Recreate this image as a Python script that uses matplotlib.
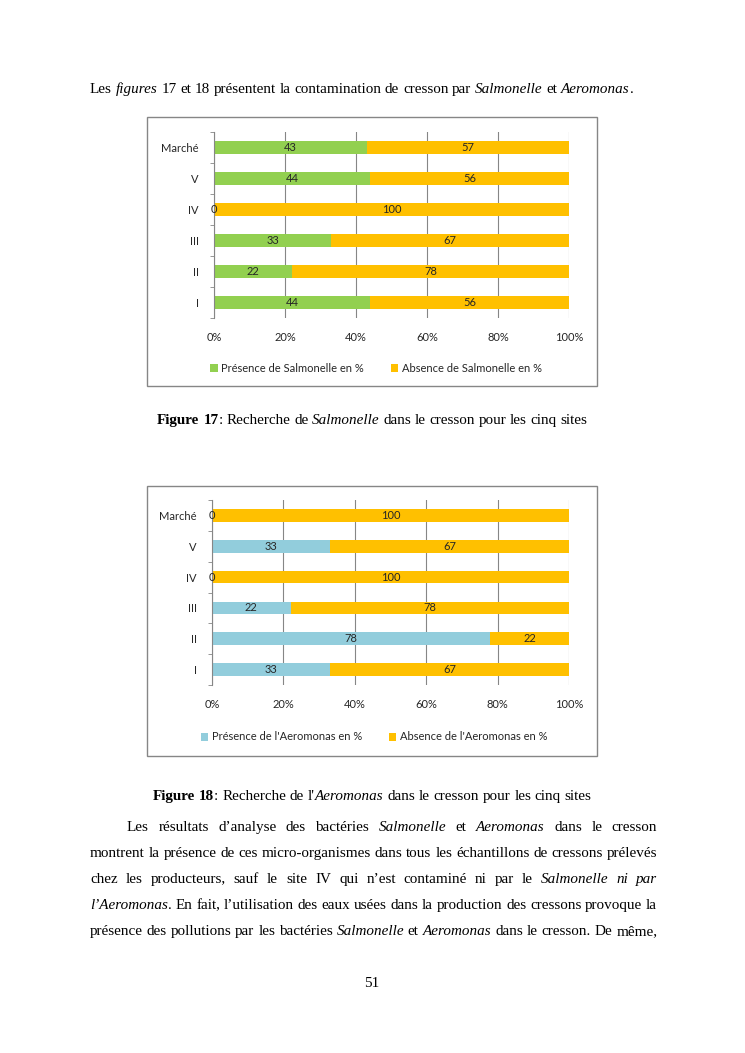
import matplotlib
matplotlib.use('Agg')
import matplotlib.pyplot as plt
from matplotlib.patches import Rectangle
from matplotlib.font_manager import FontProperties, findfont, get_font
import numpy as np

# Data
sites = ['I', 'II', 'III', 'IV', 'V', 'Marché']
salm_presence = [44, 22, 33, 0, 44, 43]
salm_absence = [56, 78, 67, 100, 56, 57]
aero_presence = [33, 78, 22, 0, 33, 0]
aero_absence = [67, 22, 78, 100, 67, 100]
xticks = [0, 20, 40, 60, 80, 100]

W, H = 745, 1053
fig = plt.figure(figsize=(W / 100, H / 100), dpi=100)

def fx(px):
    return px / W

def fy(py):
    return 1 - py / H

CHART_FONT = 'Lato'
GRAY = '#868686'


def chart(box, axbox, pres, absn, c_pres, lab_pres, lab_abs, leg_xy):
    # outer frame of the excel chart
    x0, y0, x1, y1 = box
    fig.add_artist(Rectangle((fx(x0), fy(y1)), (x1 - x0) / W, (y1 - y0) / H,
                             transform=fig.transFigure, fill=False,
                             edgecolor=GRAY, lw=1))
    l, t, rr, b = axbox
    ax = fig.add_axes([fx(l), fy(b), (rr - l) / W, (b - t) / H])
    y = np.arange(len(sites))
    b1 = ax.barh(y, pres, height=0.41, color=c_pres, label=lab_pres)
    b2 = ax.barh(y, absn, left=pres, height=0.41, color='#FFC000', label=lab_abs)
    for bars in (b1, b2):
        ax.bar_label(bars, label_type='center', fontsize=8, color='#262626',
                     family=CHART_FONT)
    ax.set_xlim(0, 100)
    ax.set_ylim(-0.5, len(sites) - 0.5)
    ax.set_xticks(xticks, [f'{v}%' for v in xticks], family=CHART_FONT, fontsize=8)
    ax.set_yticks(y, sites, family=CHART_FONT, fontsize=8)
    ax.set_yticks(np.arange(-0.5, len(sites), 1), minor=True)
    ax.tick_params(axis='y', which='major', length=0, pad=11, colors='#262626')
    ax.tick_params(axis='y', which='minor', length=3, color=GRAY)
    ax.tick_params(axis='x', length=0, pad=10, colors='#262626')
    ax.grid(axis='x', color=GRAY, lw=0.8)
    ax.set_axisbelow(True)
    for s in ('top', 'right', 'bottom'):
        ax.spines[s].set_visible(False)
    ax.spines['left'].set_color(GRAY)
    ax.legend(loc='center', bbox_to_anchor=(fx(leg_xy[0]), fy(leg_xy[1])),
              bbox_transform=fig.transFigure, ncol=2, frameon=False,
              prop={'family': CHART_FONT, 'size': 8},
              handlelength=0.7, handleheight=0.7, handletextpad=0.3,
              columnspacing=2.4, labelcolor='#262626')
    return ax


chart((147, 117, 597, 386), (214, 132, 569, 318), salm_presence, salm_absence,
      '#92D050', 'Présence de Salmonelle en %', 'Absence de Salmonelle en %', (376, 368))
chart((147, 486, 597, 756), (212, 500, 569, 685), aero_presence, aero_absence,
      '#92CDDC', "Présence de l'Aeromonas en %", "Absence de l'Aeromonas en %", (374, 737))

# ---- page text ----
SERIF = 'Liberation Serif'
FS = 10.0


def prop(st):
    return FontProperties(family=SERIF, size=FS,
                          style='italic' if 'i' in st else 'normal',
                          weight='bold' if 'b' in st else 'normal')


def kw(st):
    return dict(fontproperties=prop(st), va='baseline', ha='left', color='black')


def adv(s, st):
    # typographic advance width in pixels (dpi 100)
    f = get_font(findfont(prop(st)))
    f.set_size(FS, 100)
    return sum(f.load_char(ord(c)).linearHoriAdvance for c in s) / 65536


def parse(line):
    chars = []
    ital = bold = False
    for ch in line:
        if ch == '_':
            ital = not ital
        elif ch == '*':
            bold = not bold
        else:
            chars.append((ch, ('i' if ital else '') + ('b' if bold else '')))
    words, cur = [], []
    for ch, st in chars + [(' ', '')]:
        if ch == ' ':
            if cur:
                runs = []
                for c, s in cur:
                    if runs and runs[-1][1] == s:
                        runs[-1][0] += c
                    else:
                        runs.append([c, s])
                words.append(runs)
            cur = []
        else:
            cur.append((ch, st))
    return words


def natural(line):
    words = parse(line)
    return sum(adv(s, st) for wd in words for s, st in wd) + adv(' ', '') * (len(words) - 1)


line1 = 'Les _figures_ 17 et 18 présentent la contamination de cresson par _Salmonelle_ et _Aeromonas_.'
# scale the font so the first line spans the same width as on the page
FS = 10.0 * 543 / natural(line1)
SPACE = adv(' ', '')


def draw_line(line, y, x0=None, x1=None, center=None):
    words = parse(line)
    ws = [sum(adv(s, st) for s, st in wd) for wd in words]
    if center is not None:
        gap = SPACE
        x = center - (sum(ws) + gap * (len(words) - 1)) / 2
    elif x1 is not None:
        gap = (x1 - x0 - sum(ws)) / (len(words) - 1)
        x = x0
    else:
        gap = SPACE
        x = x0
    for wd, w in zip(words, ws):
        xx = x
        for s, st in wd:
            fig.text(fx(xx), fy(y), s, **kw(st))
            xx += adv(s, st)
        x += w + gap


draw_line(line1, 93, x0=90)
draw_line('*Figure 17*: Recherche de _Salmonelle_ dans le cresson pour les cinq sites', 424, center=372)
draw_line("*Figure 18*: Recherche de l'_Aeromonas_ dans le cresson pour les cinq sites", 800, center=372)

para = [
    'Les résultats d’analyse des bactéries _Salmonelle_ et _Aeromonas_ dans le cresson',
    'montrent la présence de ces micro-organismes dans tous les échantillons de cressons prélevés',
    'chez les producteurs, sauf le site IV qui n’est contaminé ni par le _Salmonelle ni par_',
    '_l’Aeromonas_. En fait, l’utilisation des eaux usées dans la production des cressons provoque la',
    'présence des pollutions par les bactéries _Salmonelle_ et _Aeromonas_ dans le cresson. De même,',
]
para_y = [831, 857, 883, 909, 935]
for i, (line, y) in enumerate(zip(para, para_y)):
    draw_line(line, y, x0=127 if i == 0 else 90, x1=657)

draw_line('51', 987, center=372)

fig.savefig('out.png', dpi=100)
